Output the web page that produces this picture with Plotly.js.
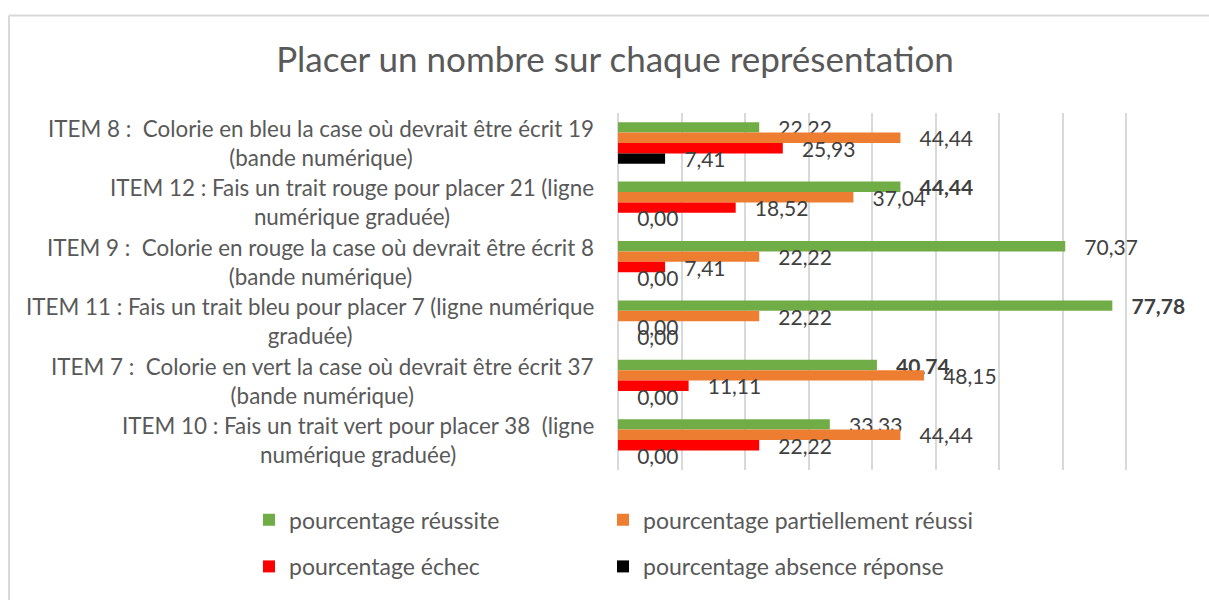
<!DOCTYPE html>
<html>
<head>
<meta charset="utf-8">
<script src="https://cdn.plot.ly/plotly-3.0.1.min.js"></script>
<style>
html,body{margin:0;padding:0;background:#fff;}
#chart{width:1209px;height:600px;}
</style>
</head>
<body>
<div id="chart"></div>
<script>
// Categories, top to bottom
const categories = [
  "ITEM 8 :  Colorie en bleu la case où devrait être écrit 19<br>(bande numérique)",
  "ITEM 12 : Fais un trait rouge pour placer 21 (ligne<br>numérique graduée)",
  "ITEM 9 :  Colorie en rouge la case où devrait être écrit 8<br>(bande numérique)",
  "ITEM 11 : Fais un trait bleu pour placer 7 (ligne numérique<br>graduée)",
  "ITEM 7 :  Colorie en vert la case où devrait être écrit 37<br>(bande numérique)",
  "ITEM 10 : Fais un trait vert pour placer 38  (ligne<br>numérique graduée)"
];
const catKeys = ["ITEM 8", "ITEM 12", "ITEM 9", "ITEM 11", "ITEM 7", "ITEM 10"];

const seriesNames = [
  "pourcentage réussite",
  "pourcentage partiellement réussi",
  "pourcentage échec",
  "pourcentage absence réponse"
];
const reussite     = [22.22, 44.44, 70.37, 77.78, 40.74, 33.33];
const partiel      = [44.44, 37.04, 22.22, 22.22, 48.15, 44.44];
const echec        = [25.93, 18.52, 7.41, 0.00, 11.11, 22.22];
const absence      = [7.41, 0.00, 0.00, 0.00, 0.00, 0.00];
const boldReussite = ["ITEM 12", "ITEM 11", "ITEM 7"];

const colors = ["#70AD47", "#ED7D31", "#FF0000", "#000000"];
const allSeries = [reussite, partiel, echec, absence];
const legendIds = ["legend", "legend2", "legend3", "legend4"];

function fmt(v) { return v.toFixed(2).replace(".", ","); }
const pad = "\u00a0\u00a0\u00a0";

const FONT = "Lato, 'Open Sans', sans-serif";

const traces = allSeries.map((vals, si) => ({
  type: "bar",
  orientation: "h",
  name: seriesNames[si],
  y: catKeys,
  x: vals,
  marker: { color: colors[si], line: { width: 0 } },
  text: vals.map((v, i) => {
    const t = fmt(v);
    return pad + ((si === 0 && boldReussite.includes(catKeys[i])) ? "<b>" + t + "</b>" : t);
  }),
  textposition: "outside",
  constraintext: "none",
  cliponaxis: false,
  textfont: { family: FONT, size: 21, color: "#404040" },
  hoverinfo: "x+name",
  legend: legendIds[si]
}));

// plot area pixel geometry
const L = 618, R = 19, T = 113, B = 128, W = 1209, H = 600;
const pw = W - L - R, ph = H - T - B;
const px = x => (x - L) / pw;
const py = y => (H - B - y) / ph;

const annotations = categories.map((c, i) => ({
  xref: "paper", yref: "y",
  x: 0, y: catKeys[i],
  xanchor: "right", yanchor: "middle",
  xshift: -22,
  align: "center",
  text: c,
  showarrow: false,
  font: { family: FONT, size: 22.4, color: "#595959" }
}));

function leg(xpx, ypx) {
  return {
    x: px(xpx), y: py(ypx), xanchor: "left", yanchor: "middle",
    orientation: "v", bgcolor: "rgba(0,0,0,0)", borderwidth: 0,
    font: { family: FONT, size: 23, color: "#595959" }
  };
}

const layout = {
  width: W, height: H,
  margin: { l: L, r: R, t: T, b: B, pad: 0 },
  paper_bgcolor: "#ffffff",
  plot_bgcolor: "#ffffff",
  barmode: "group",
  bargap: 0.3,
  bargroupgap: 0,
  title: {
    text: "Placer un nombre sur chaque représentation",
    font: { family: FONT, size: 35, color: "#595959" },
    xref: "container", yref: "container",
    x: 615 / W, y: 1 - 60 / H, xanchor: "center", yanchor: "middle"
  },
  xaxis: {
    range: [0, 90], dtick: 10, tick0: 0,
    showticklabels: false, ticks: "",
    showgrid: true, gridcolor: "#d9d9d9", gridwidth: 2,
    zeroline: true, zerolinecolor: "#d9d9d9", zerolinewidth: 2,
    showline: false, fixedrange: true
  },
  yaxis: {
    type: "category",
    autorange: "reversed",
    showticklabels: false, ticks: "",
    showgrid: false, zeroline: false, showline: false, fixedrange: true
  },
  annotations: annotations,
  showlegend: true,
  legend: leg(249, 522),
  legend2: leg(603, 522),
  legend3: leg(249, 569),
  legend4: leg(603, 569),
  shapes: [
    { type: "line", xref: "paper", yref: "paper", x0: px(9), x1: px(1215), y0: py(15), y1: py(15),
      line: { color: "#d9d9d9", width: 2 } },
    { type: "line", xref: "paper", yref: "paper", x0: px(9), x1: px(9), y0: py(15), y1: py(610),
      line: { color: "#d9d9d9", width: 2 } }
  ]
};

Plotly.newPlot("chart", traces, layout, { displayModeBar: false, staticPlot: true });
</script>
</body>
</html>
